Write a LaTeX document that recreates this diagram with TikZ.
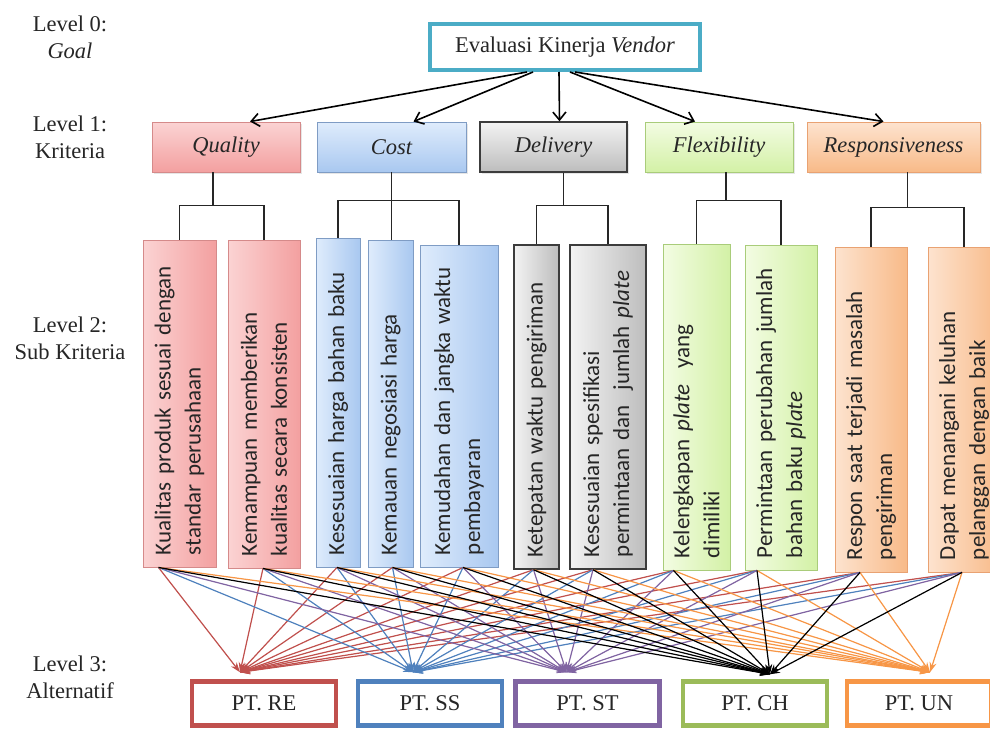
\documentclass[tikz,border=0pt]{standalone}
\usepackage{fontspec}
\setmainfont{Liberation Serif}
\newfontfamily\subfont{Carlito}
\usetikzlibrary{arrows.meta,shadows}

\definecolor{goalteal}{HTML}{4BACC6}
\definecolor{altred}{HTML}{C0504D}
\definecolor{altblue}{HTML}{4F81BD}
\definecolor{altpurple}{HTML}{8064A2}
\definecolor{altgreen}{HTML}{9BBB59}
\definecolor{altorange}{HTML}{F79646}
\definecolor{qtop}{HTML}{FBD3D3}
\definecolor{qbot}{HTML}{F3A0A0}
\definecolor{qline}{HTML}{D58A8A}
\definecolor{ctop}{HTML}{DFECFC}
\definecolor{cbot}{HTML}{A9C8F0}
\definecolor{cline}{HTML}{7F9CC4}
\definecolor{dtop}{HTML}{F3F3F3}
\definecolor{dbot}{HTML}{BDBDBD}
\definecolor{dline}{HTML}{3C3C3C}
\definecolor{ftop}{HTML}{F3FCE3}
\definecolor{fbot}{HTML}{D3F1A6}
\definecolor{fline}{HTML}{A9CC7A}
\definecolor{rtop}{HTML}{FDE3CF}
\definecolor{rbot}{HTML}{F8BA88}
\definecolor{rline}{HTML}{E9A272}

\begin{document}
\begin{tikzpicture}[x=1pt, y=-1pt, font=\rmfamily\fontsize{22.5}{27}\selectfont, text=black!85]
\tikzstyle{lvl} = [align=center]
\tikzstyle{goalbox} = [draw=goalteal, line width=4pt, minimum width=270pt, minimum height=46pt, inner sep=0pt, fill=white]
\tikzstyle{critbox} = [line width=0.9pt, minimum height=50pt, inner sep=0pt, font=\rmfamily\fontsize{22.5}{27}\selectfont\itshape, drop shadow={shadow xshift=2pt, shadow yshift=-2pt, opacity=0.2}]
\tikzstyle{subbox} = [line width=0.9pt, rotate=90, inner xsep=12pt, inner ysep=0pt, align=left, font=\subfont\fontsize{23}{30}\selectfont]
\tikzstyle{altbox} = [line width=4.5pt, minimum width=144pt, minimum height=44pt, fill=white]
\tikzstyle{arrow} = [line width=1.6pt, ->, >={Straight Barb[length=8pt,width=13pt]}]
\tikzstyle{tree} = [line width=1.3pt, black!85]
\tikzstyle{link} = [line width=1.2pt, -{Stealth[length=10pt,width=7pt]}]

\useasboundingbox (0,0) rectangle (990,731);

\node [lvl] (lvl0) at (70,37) {Level 0:\\\textit{Goal}};
\node [lvl] (lvl1) at (70,137) {Level 1:\\Kriteria};
\node [lvl] (lvl2) at (70,338) {Level 2:\\Sub Kriteria};
\node [lvl] (lvl3) at (70,677) {Level 3:\\Alternatif};

\node [goalbox] (goal) at (565,47) {Evaluasi Kinerja \textit{Vendor}};

\node [critbox, minimum width=148pt, top color=qtop, bottom color=qbot, draw=qline] (quality) at (226,147) {Quality};
\node [critbox, minimum width=149pt, top color=ctop, bottom color=cbot, draw=cline] (cost) at (391.5,147) {Cost};
\node [critbox, minimum width=147pt, top color=dtop, bottom color=dbot, draw=dline, line width=1.4pt] (delivery) at (553.5,147) {Delivery};
\node [critbox, minimum width=148pt, top color=ftop, bottom color=fbot, draw=fline] (flexibility) at (719,147) {Flexibility};
\node [critbox, minimum width=173pt, top color=rtop, bottom color=rbot, draw=rline] (responsiveness) at (893.5,147) {Responsiveness};

\draw [arrow] ([xshift=-38pt]goal.south) -- ([xshift=24pt]quality.north);
\draw [arrow] ([xshift=-32pt]goal.south) -- ([xshift=22pt]cost.north);
\draw [arrow] ([xshift=-6pt]goal.south) -- ([xshift=6pt]delivery.north);
\draw [arrow] ([xshift=5pt]goal.south) -- ([xshift=-24pt]flexibility.north);
\draw [arrow] ([xshift=10pt]goal.south) -- ([xshift=-10pt]responsiveness.north);

\node [subbox, minimum width=327pt, minimum height=73pt, text width=303pt, left color=qtop, right color=qbot, draw=qline] (sub1) at (179.5,403.5) {Kualitas produk sesuai dengan\\standar perusahaan};
\node [subbox, minimum width=328pt, minimum height=72pt, text width=304pt, left color=qtop, right color=qbot, draw=qline] (sub2) at (264,404) {Kemampuan memberikan\\kualitas secara konsisten};
\node [subbox, minimum width=329pt, minimum height=44pt, text width=305pt, left color=ctop, right color=cbot, draw=cline] (sub3) at (338,402.5) {Kesesuaian harga bahan baku};
\node [subbox, minimum width=327pt, minimum height=45pt, text width=303pt, left color=ctop, right color=cbot, draw=cline] (sub4) at (390.5,403.5) {Kemauan negosiasi harga};
\node [subbox, minimum width=322pt, minimum height=78pt, text width=298pt, left color=ctop, right color=cbot, draw=cline] (sub5) at (459,406) {Kemudahan dan jangka waktu\\pembayaran};
\node [subbox, minimum width=324pt, minimum height=45pt, text width=300pt, left color=dtop, right color=dbot, draw=dline, line width=1.4pt] (sub6) at (536.5,407) {Ketepatan waktu pengiriman};
\node [subbox, minimum width=324pt, minimum height=76pt, text width=300pt, left color=dtop, right color=dbot, draw=dline, line width=1.4pt] (sub7) at (608,407) {Kesesuaian spesifikasi\\permintaan dan~ jumlah \textit{plate}};
\node [subbox, minimum width=326pt, minimum height=67pt, text width=302pt, left color=ftop, right color=fbot, draw=fline] (sub8) at (696.5,407) {Kelengkapan \textit{plate}~ yang\\dimiliki};
\node [subbox, minimum width=325pt, minimum height=72pt, text width=301pt, left color=ftop, right color=fbot, draw=fline] (sub9) at (781,407.5) {Permintaan perubahan jumlah\\bahan baku \textit{plate}};
\node [subbox, minimum width=325pt, minimum height=72pt, text width=301pt, left color=rtop, right color=rbot, draw=rline] (sub10) at (871,409.5) {Respon saat terjadi masalah\\pengiriman};
\node [subbox, minimum width=325pt, minimum height=72pt, text width=301pt, left color=rtop, right color=rbot, draw=rline] (sub11) at (964,409.5) {Dapat menangani keluhan\\pelanggan dengan baik};

\coordinate (qbar) at ([xshift=-13pt,yshift=-33pt]quality.south);
\coordinate (cbar) at ([yshift=-28pt]cost.south);
\coordinate (dbar) at ([xshift=10pt,yshift=-33pt]delivery.south);
\coordinate (fbar) at ([xshift=7pt,yshift=-28pt]flexibility.south);
\coordinate (rbar) at ([xshift=14pt,yshift=-35pt]responsiveness.south);

\draw [tree] ([xshift=-13pt]quality.south) -- (qbar);
\draw [tree] (sub1.east) |- (qbar) -| (sub2.east);
\draw [tree] (cost.south) -- (cost.south |- sub4.east);
\draw [tree] (sub3.east) |- (cbar) -| (sub5.east);
\draw [tree] ([xshift=10pt]delivery.south) -- (dbar);
\draw [tree] (sub6.east) |- (dbar) -| (sub7.east);
\draw [tree] ([xshift=7pt]flexibility.south) -- (fbar);
\draw [tree] (sub8.east) |- (fbar) -| (sub9.east);
\draw [tree] ([xshift=14pt]responsiveness.south) -- (rbar);
\draw [tree] (sub10.east) |- (rbar) -| (sub11.east);

\node [altbox, draw=altred] (ptre) at (264,703.5) {PT. RE};
\node [altbox, draw=altblue] (ptss) at (430,703.5) {PT. SS};
\node [altbox, draw=altpurple] (ptst) at (587.5,703.5) {PT. ST};
\node [altbox, draw=altgreen] (ptch) at (755,703.5) {PT. CH};
\node [altbox, draw=altorange] (ptun) at (919,703.5) {PT. UN};

\coordinate (tre) at ([xshift=-24pt,yshift=7pt]ptre.north);
\coordinate (tss) at ([xshift=-17pt,yshift=7pt]ptss.north);
\coordinate (tst) at ([xshift=-21pt,yshift=7pt]ptst.north);
\coordinate (tch) at ([xshift=15pt,yshift=5pt]ptch.north);
\coordinate (tun) at ([xshift=11pt,yshift=7pt]ptun.north);

\foreach \s/\dx in {1/-21,2/-1,3/-1,4/2,5/4,6/-3,7/-15,8/-23,9/-24,10/-11,11/-2}
  \coordinate (b\s) at ([xshift=\dx pt]sub\s.west);

\foreach \t/\c in {re/altred, ss/altblue, st/altpurple, un/altorange, ch/black}
  \foreach \s in {1,...,11}
    \draw [link, draw=\c, fill=\c] (b\s) -- (t\t);
\end{tikzpicture}
\end{document}
